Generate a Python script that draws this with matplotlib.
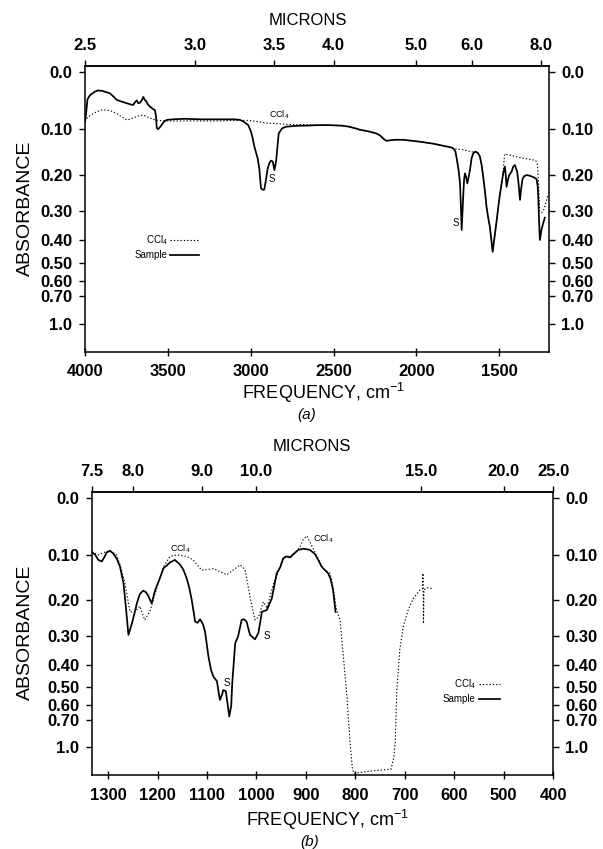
import numpy as np
import matplotlib
matplotlib.use("Agg")
import matplotlib.pyplot as plt
from matplotlib.lines import Line2D

plt.rcParams['font.family'] = ['Liberation Sans', 'DejaVu Sans']
plt.rcParams['mathtext.fontset'] = 'custom'
plt.rcParams['mathtext.rm'] = 'Liberation Sans'
plt.rcParams['mathtext.it'] = 'Liberation Sans:italic'
plt.rcParams['mathtext.bf'] = 'Liberation Sans:bold'

# ---------------- data: panel (a) ----------------
a_sample_nu = [4000, 3995, 3985, 3970, 3940, 3920, 3895, 3870, 3849, 3830, 3809, 3780, 3748, 3725, 3710,
               3698, 3688, 3678, 3668, 3658, 3648, 3640, 3632, 3620, 3608, 3590, 3578, 3572, 3567, 3560,
               3545, 3525, 3507, 3470, 3400, 3300, 3200, 3100, 3065, 3040, 3015, 2998, 2988, 2978, 2968,
               2958, 2948, 2938, 2928, 2918, 2908, 2898, 2888, 2878, 2867, 2857, 2847, 2840, 2831, 2810,
               2787, 2750, 2702, 2666, 2600, 2526, 2450, 2406, 2370, 2340, 2290, 2244, 2220, 2195, 2180,
               2130, 2080, 2030, 1978, 1900, 1817, 1790, 1778, 1765, 1757, 1745, 1737, 1732, 1727, 1722,
               1717, 1712, 1707, 1700, 1693, 1685, 1677, 1667, 1657, 1647, 1637, 1627, 1617, 1607, 1597,
               1587, 1577, 1567, 1557, 1548, 1540, 1533, 1526, 1516, 1506, 1496, 1486, 1476, 1466, 1461,
               1456, 1448, 1440, 1433, 1426, 1416, 1406, 1398, 1392, 1384, 1375, 1368, 1360, 1350, 1335,
               1315, 1295, 1275, 1268, 1265, 1260, 1255, 1245, 1235, 1225]
a_sample_A = [0.085, 0.075, 0.045, 0.038, 0.032, 0.030, 0.031, 0.033, 0.035, 0.040, 0.046, 0.049, 0.052, 0.054, 0.055,
              0.050, 0.047, 0.052, 0.051, 0.047, 0.041, 0.046, 0.048, 0.054, 0.058, 0.062, 0.064, 0.075, 0.097, 0.100,
              0.095, 0.086, 0.082, 0.081, 0.080, 0.081, 0.081, 0.081, 0.082, 0.086, 0.092, 0.105, 0.118, 0.135, 0.148,
              0.161, 0.185, 0.234, 0.238, 0.237, 0.212, 0.185, 0.172, 0.166, 0.168, 0.188, 0.168, 0.140, 0.108, 0.098,
              0.095, 0.094, 0.093, 0.093, 0.092, 0.092, 0.093, 0.095, 0.098, 0.101, 0.104, 0.108, 0.112, 0.120, 0.123,
              0.121, 0.121, 0.123, 0.125, 0.129, 0.135, 0.137, 0.139, 0.145, 0.161, 0.190, 0.221, 0.280, 0.362, 0.300,
              0.248, 0.210, 0.196, 0.205, 0.221, 0.205, 0.188, 0.160, 0.150, 0.146, 0.147, 0.150, 0.157, 0.175, 0.204,
              0.240, 0.286, 0.320, 0.350, 0.400, 0.447, 0.410, 0.374, 0.330, 0.286, 0.250, 0.221, 0.195, 0.180, 0.200,
              0.230, 0.212, 0.200, 0.196, 0.192, 0.180, 0.176, 0.185, 0.192, 0.220, 0.266, 0.235, 0.210, 0.203, 0.200,
              0.202, 0.205, 0.210, 0.230, 0.257, 0.330, 0.399, 0.360, 0.338, 0.320]

a_ccl4_nu = [4000, 3985, 3965, 3930, 3900, 3870, 3840, 3810, 3780, 3749, 3720, 3690, 3670, 3648, 3620,
             3588, 3560, 3500, 3400, 3300, 3200, 3105, 3020, 2960, 2908, 2850, 2807, 2750, 2666, 2600,
             2526, 2450, 2406, 2370, 2340, 2290, 2244, 2220, 2195, 2180, 2130, 2080, 2030, 1978, 1900,
             1817, 1790, 1778, 1720, 1657, 1647, 1637, 1627, 1617, 1607, 1597, 1587, 1577, 1567, 1557,
             1548, 1540, 1533, 1526, 1516, 1506, 1496, 1486, 1476, 1470, 1466, 1440, 1400, 1350, 1300,
             1280, 1270, 1263, 1256, 1245, 1235, 1225, 1214, 1205]
a_ccl4_A = [0.085, 0.078, 0.073, 0.067, 0.064, 0.064, 0.066, 0.070, 0.076, 0.082, 0.080, 0.076, 0.074, 0.073, 0.077,
            0.081, 0.083, 0.084, 0.084, 0.084, 0.084, 0.083, 0.083, 0.085, 0.088, 0.089, 0.090, 0.091, 0.091, 0.092,
            0.092, 0.093, 0.095, 0.098, 0.101, 0.104, 0.108, 0.112, 0.120, 0.123, 0.121, 0.121, 0.123, 0.125, 0.129,
            0.135, 0.137, 0.139, 0.142, 0.147, 0.146, 0.147, 0.150, 0.157, 0.175, 0.204, 0.240, 0.286, 0.320, 0.350,
            0.400, 0.447, 0.410, 0.374, 0.330, 0.286, 0.250, 0.221, 0.190, 0.160, 0.151, 0.153, 0.157, 0.161, 0.164,
            0.166, 0.175, 0.220, 0.300, 0.304, 0.300, 0.285, 0.266, 0.250]

# ---------------- data: panel (b) ----------------
b_sample_nu = [1333, 1326, 1320, 1313, 1308, 1303, 1296, 1290, 1283, 1276, 1269, 1264, 1259, 1252, 1247,
               1242, 1236, 1229, 1224, 1219, 1212, 1205, 1196, 1188, 1180, 1175, 1165, 1155, 1148, 1141,
               1136, 1131, 1124, 1119, 1114, 1108, 1104, 1097, 1092, 1087, 1080, 1074, 1070, 1067, 1062,
               1058, 1055, 1051, 1049, 1043, 1037, 1030, 1025, 1020, 1013, 1003, 996, 989, 979, 969,
               959, 952, 946, 939, 932, 926, 915, 905, 892, 882, 875, 868, 855, 850, 845, 840]
b_sample_A = [0.094, 0.100, 0.110, 0.113, 0.105, 0.095, 0.092, 0.097, 0.107, 0.124, 0.160, 0.220, 0.296, 0.262, 0.235,
              0.208, 0.185, 0.177, 0.180, 0.189, 0.208, 0.176, 0.150, 0.127, 0.120, 0.115, 0.110, 0.119, 0.130, 0.149,
              0.170, 0.199, 0.257, 0.260, 0.250, 0.265, 0.286, 0.370, 0.420, 0.450, 0.470, 0.567, 0.540, 0.513, 0.520,
              0.600, 0.676, 0.600, 0.480, 0.323, 0.300, 0.252, 0.250, 0.257, 0.296, 0.310, 0.290, 0.230, 0.225, 0.196,
              0.138, 0.125, 0.107, 0.103, 0.105, 0.099, 0.090, 0.088, 0.090, 0.098, 0.110, 0.124, 0.138, 0.150, 0.175, 0.230]

b_ccl4_nu = [1333, 1320, 1303, 1296, 1283, 1276, 1266, 1256, 1246, 1236, 1226, 1215, 1205, 1188, 1175,
             1160, 1141, 1128, 1111, 1100, 1087, 1074, 1060, 1046, 1033, 1023, 1013, 1003, 996, 986,
             979, 966, 952, 943, 929, 912, 905, 898, 892, 879, 865, 851, 845, 838, 831,
             824, 817, 811, 806, 803, 770, 740, 728, 722, 719, 716, 710, 703, 693, 683,
             669, 664, 663, 662, 661, 655, 645]
b_ccl4_A = [0.094, 0.100, 0.093, 0.092, 0.100, 0.120, 0.160, 0.230, 0.230, 0.215, 0.252, 0.227, 0.183, 0.124, 0.103,
            0.100, 0.103, 0.110, 0.131, 0.130, 0.128, 0.134, 0.141, 0.130, 0.120, 0.130, 0.192, 0.252, 0.245, 0.204,
            0.220, 0.163, 0.124, 0.103, 0.103, 0.085, 0.070, 0.064, 0.075, 0.100, 0.128, 0.138, 0.170, 0.225, 0.252,
            0.370, 0.548, 0.900, 1.600, 2.200, 1.850, 1.720, 1.680, 1.200, 0.900, 0.513, 0.345, 0.271, 0.225, 0.196,
            0.175, 0.172, 0.138, 0.262, 0.175, 0.170, 0.172]

abs_ticks = [0.0, 0.10, 0.20, 0.30, 0.40, 0.50, 0.60, 0.70, 1.0]
abs_labels = ['0.0', '0.10', '0.20', '0.30', '0.40', '0.50', '0.60', '0.70', '1.0']
a_freq_ticks = [4000, 3500, 3000, 2500, 2000, 1500]
b_freq_ticks = [1300, 1200, 1100, 1000, 900, 800, 700, 600, 500, 400]
a_micron_ticks = [2.5, 3.0, 3.5, 4.0, 5.0, 6.0, 8.0]
b_micron_ticks = [7.5, 8.0, 9.0, 10.0, 15.0, 20.0, 25.0]

# ---------------- helpers ----------------
def fwd(A):
    A = np.asarray(A, dtype=float)
    return 1.0 - np.power(10.0, -A)

def inv(u):
    u = np.clip(np.asarray(u, dtype=float), -10, 0.9999999)
    return -np.log10(1.0 - u)

def nu2um(v):
    v = np.asarray(v, dtype=float)
    with np.errstate(divide='ignore'):
        return np.where(v == 0, np.inf, 1e4 / np.where(v == 0, 1, v))

W, H = 603, 849
fig = plt.figure(figsize=(W / 100, H / 100), dpi=100)

def px_axes(l, t, r, b):
    return fig.add_axes([l / W, 1 - b / H, (r - l) / W, (b - t) / H])

TICKFONT = dict(fontsize=12, fontweight='bold')

def setup(ax, xlim, ytop, freq_ticks, micron_ticks, micron_fmt):
    ax.set_yscale('function', functions=(fwd, inv))
    ax.set_xlim(*xlim)
    ax.set_ylim(5, ytop)
    ax.set_yticks(abs_ticks)
    ax.set_yticklabels(abs_labels, **TICKFONT)
    ax.minorticks_off()
    ax.yaxis.set_ticks_position('both')
    ax.tick_params(axis='y', which='major', direction='out', length=4, width=1,
                   labelleft=True, labelright=True, pad=5)
    ax.set_xticks(freq_ticks)
    ax.set_xticklabels([str(t) for t in freq_ticks], **TICKFONT)
    ax.tick_params(axis='x', which='major', direction='inout', length=6, width=1, pad=6)
    for s in ax.spines.values():
        s.set_linewidth(1.1)
    sec = ax.secondary_xaxis('top', functions=(nu2um, nu2um))
    sec.set_xticks(micron_ticks)
    sec.set_xticklabels([micron_fmt(m) for m in micron_ticks], **TICKFONT)
    sec.minorticks_off()
    sec.tick_params(axis='x', direction='out', length=4, width=1, pad=5)
    sec.spines['top'].set_linewidth(1.1)
    return sec

SOLID = dict(color='black', lw=1.25, solid_joinstyle='round')
DOT = dict(color='black', lw=0.8, linestyle=(0, (1.2, 1.8)))

# ---------------- panel (a) ----------------
axa = px_axes(85, 65.7, 549, 351.7)
setup(axa, (4000, 1200), -0.0092, a_freq_ticks, a_micron_ticks, lambda m: f"{m:.1f}")
axa.plot(a_ccl4_nu, a_ccl4_A, **DOT)
axa.plot(a_sample_nu, a_sample_A, **SOLID)
axa.text(2830, 0.073, 'CCl$_4$', fontsize=6.5, ha='center', va='center')
axa.text(2874, 0.21, 'S', fontsize=7, ha='center', va='center')
axa.text(1763, 0.336, 'S', fontsize=7, ha='center', va='center')
handles = [Line2D([], [], **DOT), Line2D([], [], **SOLID)]
axa.legend(handles, ['CCl$_4$', 'Sample'], loc='upper right', bbox_to_anchor=(0.245, 0.415),
           frameon=False, markerfirst=False, fontsize=7, handlelength=3.0, handletextpad=0.2,
           labelspacing=0.35, borderpad=0, borderaxespad=0)

fig.text(308 / W, 1 - 20.7 / H, 'MICRONS', fontsize=12, ha='center', va='center')
fig.text(25 / W, 1 - 208 / H, 'ABSORBANCE', fontsize=14, rotation=90, ha='center', va='center')
fig.text(323 / W, 1 - 393 / H, 'FREQUENCY, cm$^{-1}$', fontsize=13, ha='center', va='center')
fig.text(307 / W, 1 - 415 / H, '(a)', fontsize=11, style='italic', ha='center', va='center')

# ---------------- panel (b) ----------------
axb = px_axes(91.7, 491.7, 553, 775)
setup(axb, (1e4 / 7.5, 400), -0.0097, b_freq_ticks, b_micron_ticks, lambda m: f"{m:.1f}")
axb.plot(b_ccl4_nu, b_ccl4_A, **DOT)
axb.plot(b_sample_nu, b_sample_A, **SOLID)
axb.text(1154, 0.087, 'CCl$_4$', fontsize=6.5, ha='center', va='center')
axb.text(886, 0.070, 'CCl$_4$', fontsize=6.5, ha='left', va='center')
axb.text(986, 0.30, 'S', fontsize=7, ha='left', va='center')
axb.text(1060, 0.48, 'S', fontsize=7, ha='center', va='center')
axb.legend(handles, ['CCl$_4$', 'Sample'], loc='upper right', bbox_to_anchor=(0.885, 0.345),
           frameon=False, markerfirst=False, fontsize=7, handlelength=2.2, handletextpad=0.3,
           labelspacing=0.35, borderpad=0, borderaxespad=0)

fig.text(312 / W, 1 - 446.7 / H, 'MICRONS', fontsize=12, ha='center', va='center')
fig.text(25 / W, 1 - 632 / H, 'ABSORBANCE', fontsize=14, rotation=90, ha='center', va='center')
fig.text(327 / W, 1 - 820 / H, 'FREQUENCY, cm$^{-1}$', fontsize=13, ha='center', va='center')
fig.text(310 / W, 1 - 842 / H, '(b)', fontsize=11, style='italic', ha='center', va='center')

fig.savefig('out.png', dpi=100, facecolor='white')
